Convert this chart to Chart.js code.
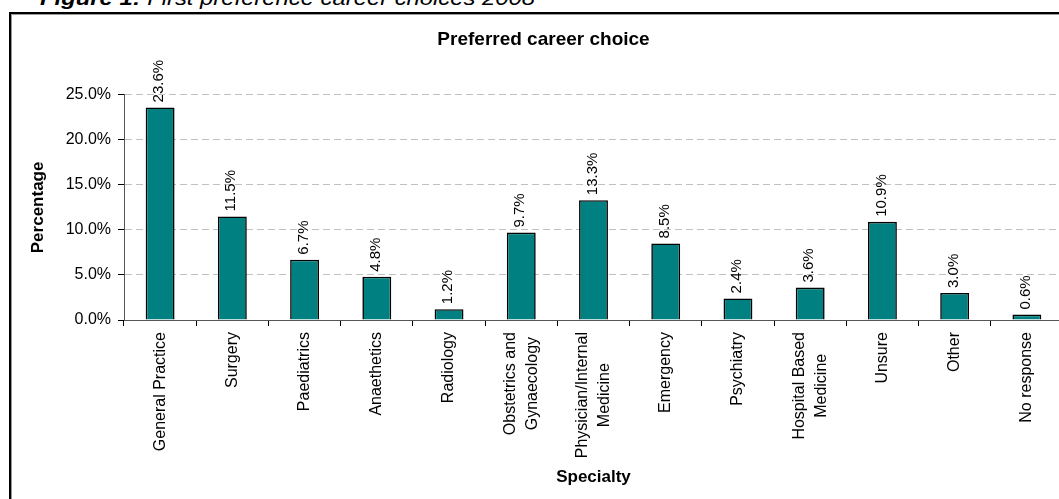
<!DOCTYPE html>
<html>
<head>
<meta charset="utf-8">
<script src="https://cdn.jsdelivr.net/npm/chart.js@4.4.1/dist/chart.umd.min.js"></script>
<style>
  html, body { margin: 0; padding: 0; width: 1059px; height: 499px; overflow: hidden; background: #fff; }
  #box { position: absolute; left: 9px; top: 12px; width: 1200px; height: 700px;
         border-top: 2px solid #000; border-left: 2px solid #000; box-shadow: inset 1px 1px 0 #999; }
  #caption { position: absolute; left: 40px; top: -13px; font-family: "Liberation Sans", Arial, sans-serif;
             font-size: 21px; line-height: 21px; font-style: italic; white-space: nowrap;
             transform: scaleX(1.134); transform-origin: left top; color: #000; }
  #wrap { position: absolute; left: 0; top: 0; width: 1080px; height: 499px; }
</style>
</head>
<body>
<div id="box"></div>
<div id="caption"><b>Figure 1:</b> First preference career choices 2008</div>
<div id="wrap"><canvas id="c" width="1080" height="499"></canvas></div>
<script>
const categories = [
  "General Practice", "Surgery", "Paediatrics", "Anaethetics", "Radiology",
  ["Obstetrics and", "Gynaecology"], ["Physician/Internal", "Medicine"],
  "Emergency", "Psychiatry", ["Hospital Based", "Medicine"], "Unsure", "Other", "No response"
];
const percentages = [23.6, 11.5, 6.7, 4.8, 1.2, 9.7, 13.3, 8.5, 2.4, 3.6, 10.9, 3.0, 0.6];
const yTicks = [0, 5, 10, 15, 20, 25];

const FONT = '"Liberation Sans", Arial, sans-serif';

const dataLabels = {
  id: 'dataLabels',
  afterDatasetsDraw(chart) {
    const ctx = chart.ctx;
    const meta = chart.getDatasetMeta(0);
    ctx.save();
    ctx.font = '15px ' + FONT;
    ctx.fillStyle = '#000';
    meta.data.forEach((el, i) => {
      ctx.save();
      ctx.translate(el.x - 1, el.y - 5);
      ctx.rotate(-Math.PI / 2);
      ctx.textAlign = 'left';
      ctx.textBaseline = 'middle';
      ctx.fillText(percentages[i].toFixed(1) + '%', 0, 0);
      ctx.restore();
    });
    ctx.restore();
  }
};

const xLabels = {
  id: 'xLabels',
  afterDraw(chart) {
    const ctx = chart.ctx;
    const scale = chart.scales.x;
    const y0 = scale.top + 12;
    const lh = 22;
    ctx.save();
    ctx.font = '16px ' + FONT;
    ctx.fillStyle = '#000';
    categories.forEach((lab, i) => {
      const lines = Array.isArray(lab) ? lab : [lab];
      const n = lines.length;
      const maxW = Math.max(...lines.map(l => ctx.measureText(l).width));
      const x = scale.getPixelForTick(i);
      lines.forEach((line, j) => {
        ctx.save();
        ctx.translate(x + (j - (n - 1) / 2) * lh, y0 + maxW / 2);
        ctx.rotate(-Math.PI / 2);
        ctx.textAlign = 'center';
        ctx.textBaseline = 'middle';
        ctx.fillText(line, 0, 0);
        ctx.restore();
      });
    });
    ctx.restore();
  }
};

new Chart(document.getElementById('c'), {
  type: 'bar',
  data: {
    labels: categories,
    datasets: [{
      data: percentages,
      backgroundColor: '#008080',
      borderColor: '#000',
      borderWidth: 1.6,
      barPercentage: 0.4,
      categoryPercentage: 1.0
    }]
  },
  options: {
    responsive: false,
    animation: false,
    layout: { padding: { left: 24, top: 0, right: 17, bottom: 7 } },
    plugins: {
      legend: { display: false },
      tooltip: { enabled: false },
      title: {
        display: true,
        text: 'Preferred career choice',
        color: '#000',
        font: { family: FONT, size: 19, weight: 'bold' },
        padding: { top: 28, bottom: 44 }
      }
    },
    scales: {
      x: {
        type: 'category',
        offset: true,
        afterFit(s) { s.height = 172; },
        grid: { display: true, drawOnChartArea: false, offset: true, tickLength: 6, tickColor: '#000', color: '#000' },
        border: { display: true, color: '#555', width: 1 },
        ticks: { autoSkip: false, minRotation: 90, maxRotation: 90, color: 'rgba(0,0,0,0)', font: { family: FONT, size: 16 } },
        title: { display: true, text: 'Specialty', color: '#000', font: { family: FONT, size: 17, weight: 'bold' }, padding: { top: 4, bottom: 4 } }
      },
      y: {
        min: 0,
        max: 25,
        afterFit(s) { s.width = 100; },
        afterBuildTicks(s) { s.ticks = yTicks.map(v => ({ value: v })); },
        grid: { color: '#c0c0c0', tickColor: '#000', tickLength: 6, tickBorderDash: [] },
        border: { display: true, color: '#555', width: 1, dash: [7, 4] },
        ticks: {
          color: '#000',
          padding: 7,
          font: { family: FONT, size: 16 },
          callback: v => Number(v).toFixed(1) + '%'
        },
        title: { display: true, text: 'Percentage', color: '#000', font: { family: FONT, size: 17, weight: 'bold' }, padding: { top: 4, bottom: 4 } }
      }
    }
  },
  plugins: [dataLabels, xLabels]
});
</script>
</body>
</html>
